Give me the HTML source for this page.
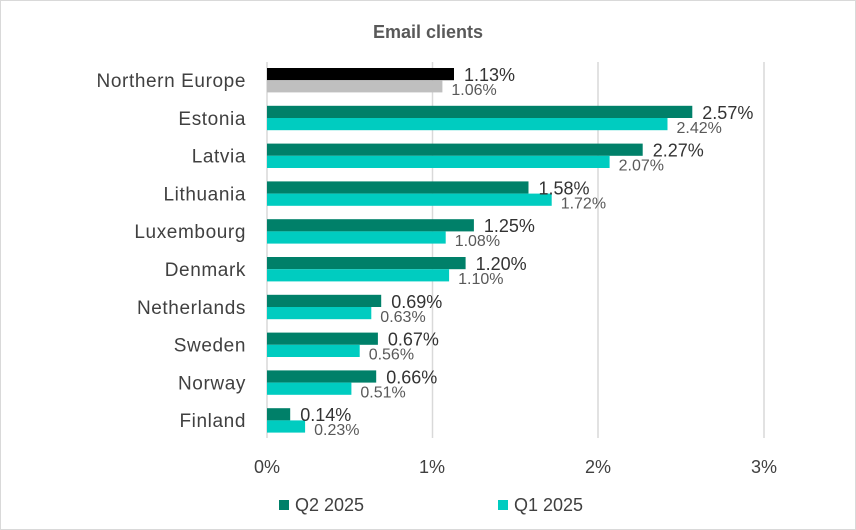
<!DOCTYPE html><html><head><style>body{margin:0;background:#fff}svg{display:block}text{font-family:"Liberation Sans",sans-serif}</style></head><body>
<svg width="856" height="530" viewBox="0 0 856 530" xmlns="http://www.w3.org/2000/svg">
<rect x="0.5" y="0.5" width="855" height="529" fill="#fff" stroke="#d9d9d9"/>
<text x="428" y="38" text-anchor="middle" font-size="18" font-weight="bold" fill="#595959">Email clients</text>
<g stroke="#d9d9d9" stroke-width="1.5">
<line x1="432.5" y1="62" x2="432.5" y2="438"/><line x1="598" y1="62" x2="598" y2="438"/><line x1="764" y1="62" x2="764" y2="438"/>
<line x1="267" y1="62" x2="267" y2="438"/></g>
<g font-size="18" fill="#404040" text-anchor="middle"><text x="267" y="473">0%</text><text x="432" y="473">1%</text><text x="598" y="473">2%</text><text x="764" y="473">3%</text></g>
<g font-size="19" fill="#404040" text-anchor="end" letter-spacing="0.6">
<text x="246" y="87">Northern Europe</text>
<text x="246" y="124.8">Estonia</text>
<text x="246" y="162.6">Latvia</text>
<text x="246" y="200.4">Lithuania</text>
<text x="246" y="238.2">Luxembourg</text>
<text x="246" y="276">Denmark</text>
<text x="246" y="313.8">Netherlands</text>
<text x="246" y="351.6">Sweden</text>
<text x="246" y="389.4">Norway</text>
<text x="246" y="427.2">Finland</text>
</g>
<rect x="267" y="68" width="187" height="12.2" fill="#000"/><rect x="267" y="80.2" width="175.4" height="12.2" fill="#bfbfbf"/>
<g fill="#008069">
<rect x="267" y="105.8" width="425.3" height="12.2"/>
<rect x="267" y="143.6" width="375.7" height="12.2"/>
<rect x="267" y="181.4" width="261.5" height="12.2"/>
<rect x="267" y="219.2" width="206.9" height="12.2"/>
<rect x="267" y="257" width="198.6" height="12.2"/>
<rect x="267" y="294.8" width="114.2" height="12.2"/>
<rect x="267" y="332.6" width="110.9" height="12.2"/>
<rect x="267" y="370.4" width="109.2" height="12.2"/>
<rect x="267" y="408.2" width="23.2" height="12.2"/>
</g>
<g fill="#00ccc0">
<rect x="267" y="118" width="400.5" height="12.2"/>
<rect x="267" y="155.8" width="342.6" height="12.2"/>
<rect x="267" y="193.6" width="284.7" height="12.2"/>
<rect x="267" y="231.4" width="178.7" height="12.2"/>
<rect x="267" y="269.2" width="182.1" height="12.2"/>
<rect x="267" y="307" width="104.3" height="12.2"/>
<rect x="267" y="344.8" width="92.7" height="12.2"/>
<rect x="267" y="382.6" width="84.4" height="12.2"/>
<rect x="267" y="420.4" width="38.1" height="12.2"/>
</g>
<g font-size="18" fill="#333">
<text x="464" y="81">1.13%</text>
<text x="702.3" y="118.8">2.57%</text>
<text x="652.7" y="156.6">2.27%</text>
<text x="538.5" y="194.4">1.58%</text>
<text x="483.9" y="232.2">1.25%</text>
<text x="475.6" y="270">1.20%</text>
<text x="391.2" y="307.8">0.69%</text>
<text x="387.9" y="345.6">0.67%</text>
<text x="386.2" y="383.4">0.66%</text>
<text x="300.2" y="421.2">0.14%</text>
</g>
<g font-size="16" fill="#595959">
<text x="451.4" y="95">1.06%</text>
<text x="676.5" y="132.8">2.42%</text>
<text x="618.6" y="170.6">2.07%</text>
<text x="560.7" y="208.4">1.72%</text>
<text x="454.7" y="246.2">1.08%</text>
<text x="458.1" y="284">1.10%</text>
<text x="380.3" y="321.8">0.63%</text>
<text x="368.7" y="359.6">0.56%</text>
<text x="360.4" y="397.4">0.51%</text>
<text x="314.1" y="435.2">0.23%</text>
</g>
<g font-size="18" fill="#404040">
<rect x="279" y="500" width="10" height="10" fill="#008069"/><text x="295" y="511">Q2 2025</text>
<rect x="498" y="500" width="10" height="10" fill="#00ccc0"/><text x="514" y="511">Q1 2025</text></g>
</svg></body></html>
